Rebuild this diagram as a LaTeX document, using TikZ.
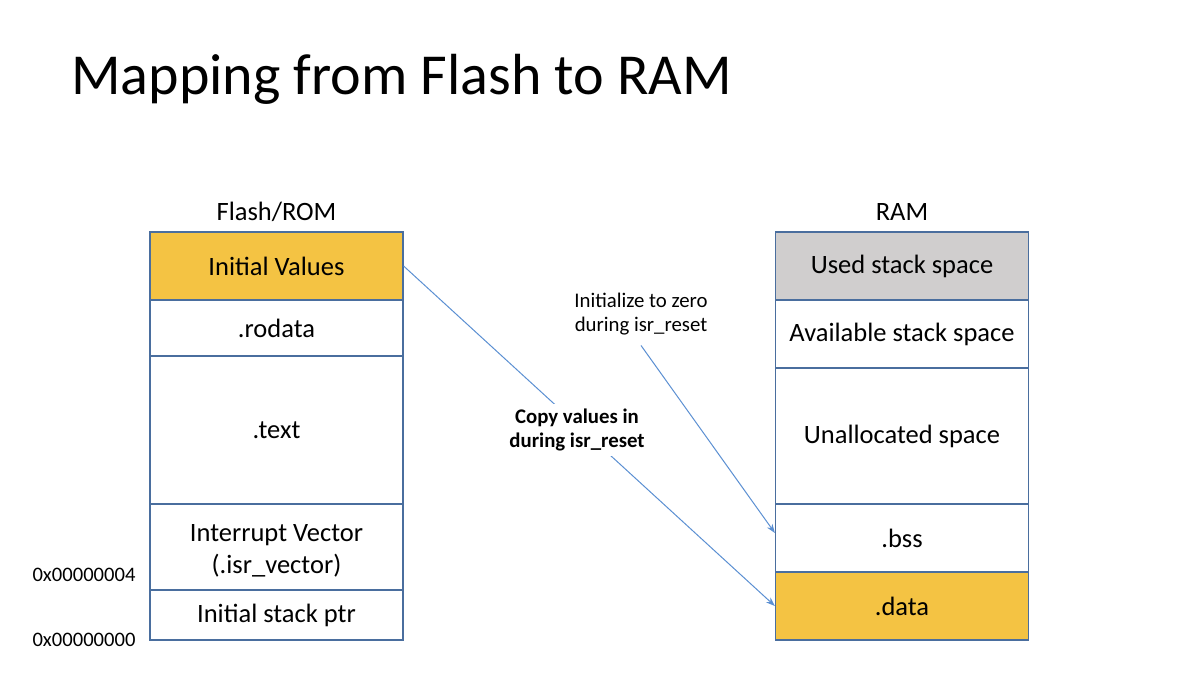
\documentclass[tikz,border=0pt]{standalone}
\usepackage{fontspec}
\setmainfont{Carlito}
\usetikzlibrary{arrows.meta}
\definecolor{boxline}{HTML}{4A6E9E}
\definecolor{arrowline}{HTML}{5B8FD2}
\definecolor{gold}{HTML}{F4C343}
\definecolor{usedgray}{HTML}{D0CECE}
\tikzset{
  mem/.style={draw=boxline, line width=1.2pt, minimum width=253pt, inner sep=0pt, align=center, font=\fontsize{26.5}{32}\selectfont},
  hdr/.style={font=\fontsize{26.5}{32}\selectfont},
  addr/.style={font=\fontsize{20.6}{24}\selectfont},
  note/.style={font=\fontsize{20.8}{24.5}\selectfont, align=center},
  conn/.style={draw=arrowline, line width=1pt, -{Stealth[length=9pt,width=6.5pt]}},
}
\begin{document}
\begin{tikzpicture}[x=1pt,y=-1pt]
\useasboundingbox (0,0) rectangle (1180,684);
\node[anchor=base west, inner sep=0pt, font=\fontsize{58}{62}\selectfont] (title) at (71,95) {Mapping from Flash to RAM};
\node[hdr] (flash) at (276.5,212) {Flash/ROM};
\node[hdr] (ram) at (902,212) {RAM};
% Flash column
\node[mem, fill=gold, minimum height=68pt] (iv) at (276.5,266) {Initial Values};
\node[mem, minimum height=56pt] (rod) at (276.5,328) {.rodata};
\node[mem, minimum height=148pt] (txt) at (276.5,430) {.text};
\node[mem, minimum height=86pt, label={[align=center, inner sep=0pt, font=\fontsize{26.5}{32}\selectfont, yshift=-4pt]center:{Interrupt Vector\\(.isr\_vector)}}] (ivec) at (276.5,547) {};
\node[mem, minimum height=50pt] (isp) at (276.5,615) {Initial stack ptr};
% RAM column
\node[mem, fill=usedgray, minimum height=68pt] (used) at (902,266) {Used stack space};
\node[mem, minimum height=68pt] (avail) at (902,334) {Available stack space};
\node[mem, minimum height=136pt] (unal) at (902,436) {Unallocated space};
\node[mem, minimum height=68pt] (bss) at (902,538) {.bss};
\node[mem, fill=gold, minimum height=68pt] (data) at (902,606) {.data};
% addresses
\node[addr] (a4) at (84,575) {0x00000004};
\node[addr] (a0) at (84,640) {0x00000000};
% connectors
\draw[conn] (iv.east) -- (data.west);
\node[note, fill=white, inner sep=5pt, font=\fontsize{20.8}{24.5}\selectfont\bfseries] (copy) at (577,430) {Copy values in\\during isr\_reset};
\node[note, inner sep=2pt] (init) at (641,314) {Initialize to zero\\during isr\_reset};
\coordinate (bssin) at ([yshift=5pt]bss.west);
\draw[conn] ([yshift=-8pt]init.south) -- (bssin);
\end{tikzpicture}
\end{document}
